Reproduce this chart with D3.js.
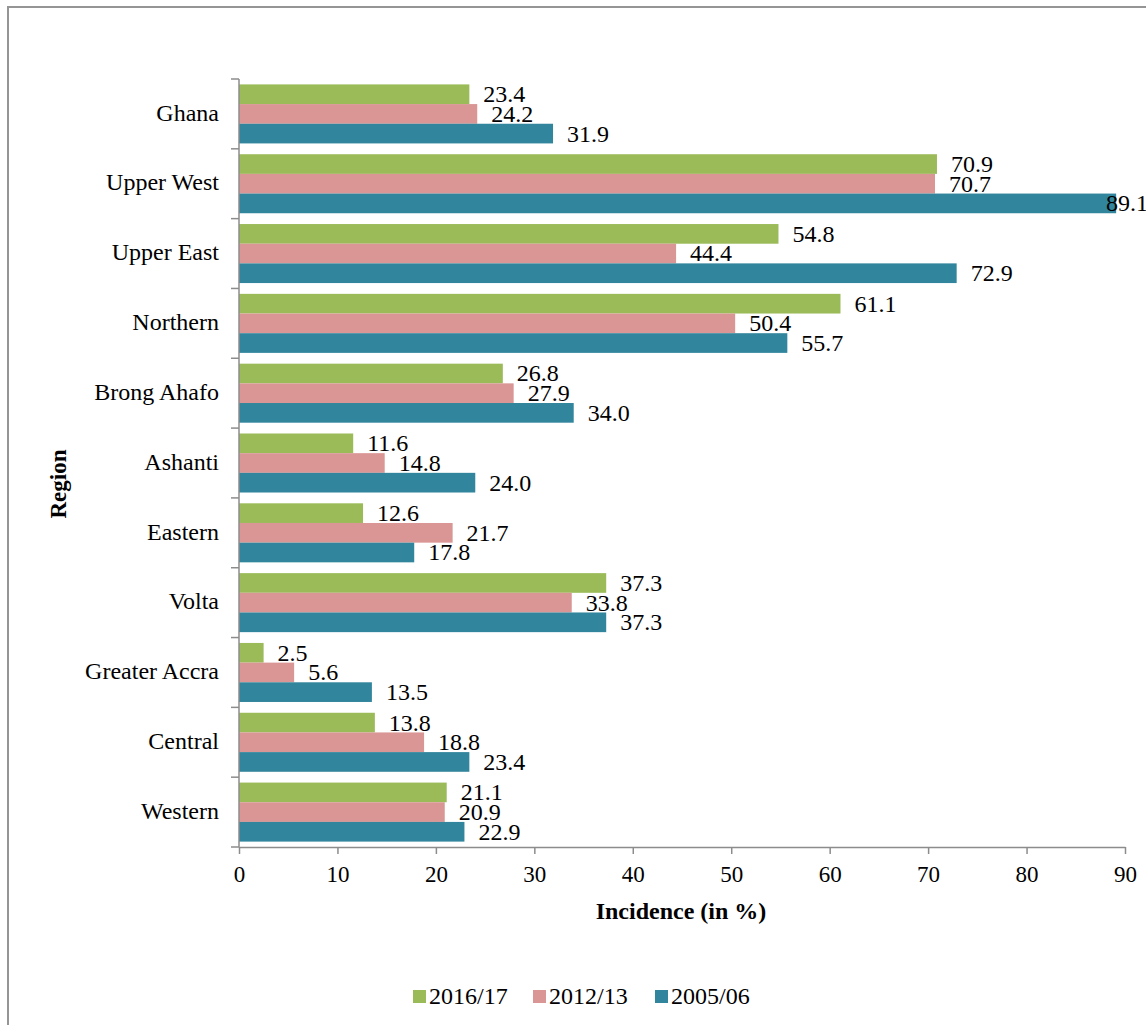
<!DOCTYPE html>
<html>
<head>
<meta charset="utf-8">
<script src="https://cdn.jsdelivr.net/npm/d3@7"></script>
<style>
    body { margin: 0; background: #fff; }
    svg text { font-family: 'Liberation Serif', 'Times New Roman', 'DejaVu Serif', serif !important; fill: #000; }
</style>
</head>
<body>
<div id="chart"></div>
<script>
const regions = ['Ghana', 'Upper West', 'Upper East', 'Northern', 'Brong Ahafo', 'Ashanti',
    'Eastern', 'Volta', 'Greater Accra', 'Central', 'Western'];
const seriesNames = ['2016/17', '2012/13', '2005/06'];
const v2016 = [23.4, 70.9, 54.8, 61.1, 26.8, 11.6, 12.6, 37.3, 2.5, 13.8, 21.1];
const v2012 = [24.2, 70.7, 44.4, 50.4, 27.9, 14.8, 21.7, 33.8, 5.6, 18.8, 20.9];
const v2005 = [31.9, 89.1, 72.9, 55.7, 34.0, 24.0, 17.8, 37.3, 13.5, 23.4, 22.9];
const xTicks = [0, 10, 20, 30, 40, 50, 60, 70, 80, 90];
const colors = ['#9bbb59', '#d99694', '#31859c'];

const serif = "'Liberation Serif', 'Times New Roman', serif";
const dims = { width: 1146, height: 1025 };
const plot = { left: 239, right: 1125, top: 79, bottom: 847 };

const svg = d3.select('#chart')
    .append('svg')
    .attr('width', dims.width)
    .attr('height', dims.height)
    .attr('font-family', serif);

// outer frame
svg.append('rect')
    .attr('x', 8).attr('y', 7)
    .attr('width', 1300).attr('height', 1200)
    .attr('fill', 'none')
    .attr('stroke', '#959595')
    .attr('stroke-width', 2);

// scales
const x = d3.scaleLinear().domain([0, 90]).range([plot.left, plot.right]);
const y = d3.scaleBand().domain(regions).range([plot.top, plot.bottom]).padding(0);
const inner = d3.scaleBand().domain(seriesNames)
    .range([5.4, y.bandwidth() - 5.4]).padding(0);

// table for the bars
const rows = [];
regions.forEach((r, i) => {
    [v2016, v2012, v2005].forEach((vals, j) => {
        rows.push({ region: r, series: seriesNames[j], value: vals[i], color: colors[j] });
    });
});

// bars
svg.append('g').selectAll('rect')
    .data(rows)
    .enter()
    .append('rect')
    .attr('x', x(0))
    .attr('y', d => y(d.region) + inner(d.series))
    .attr('width', d => x(d.value) - x(0))
    .attr('height', inner.bandwidth())
    .attr('fill', d => d.color);

// value labels
const labels = svg.append('g').selectAll('text')
    .data(rows)
    .enter()
    .append('text')
    .attr('y', d => y(d.region) + inner(d.series) + inner.bandwidth() / 2)
    .attr('dy', '0.33em')
    .style('font-family', serif)
    .style('font-size', '24px')
    .text(d => d.value.toFixed(1));

labels.attr('x', function (d) {
    const w = this.getComputedTextLength();
    return Math.min(x(d.value) + 14, 1148 - w);
});

// x axis
const xAxis = svg.append('g')
    .attr('transform', `translate(0,${plot.bottom})`)
    .call(d3.axisBottom(x).tickValues(xTicks).tickSize(7).tickSizeOuter(0).tickPadding(12));
xAxis.attr('font-family', serif);
xAxis.select('.domain').attr('stroke', '#8c8c8c').attr('stroke-width', 1.5);
xAxis.selectAll('.tick line').attr('stroke', '#8c8c8c').attr('stroke-width', 1.5);
xAxis.selectAll('.tick text')
    .style('font-family', serif)
    .style('font-size', '23px')
    .attr('fill', '#000');

// y axis (ticks on category boundaries)
const yAxis = svg.append('g');
yAxis.append('line')
    .attr('x1', plot.left).attr('x2', plot.left)
    .attr('y1', plot.top).attr('y2', plot.bottom)
    .attr('stroke', '#8c8c8c').attr('stroke-width', 1.5);
yAxis.selectAll('.btick')
    .data(regions.map(r => y(r)).concat([plot.bottom]))
    .enter()
    .append('line')
    .attr('x1', plot.left - 8).attr('x2', plot.left)
    .attr('y1', d => d).attr('y2', d => d)
    .attr('stroke', '#8c8c8c').attr('stroke-width', 1.5);
yAxis.selectAll('.cat')
    .data(regions)
    .enter()
    .append('text')
    .attr('x', 219)
    .attr('y', d => y(d) + y.bandwidth() / 2)
    .attr('dy', '0.28em')
    .attr('text-anchor', 'end')
    .style('font-family', serif)
    .style('font-size', '24px')
    .text(d => d);

// axis titles
svg.append('text')
    .attr('x', (plot.left + plot.right) / 2 - 1)
    .attr('y', 919)
    .attr('text-anchor', 'middle')
    .style('font-family', serif)
    .style('font-size', '24px')
    .style('font-weight', 'bold')
    .text('Incidence (in %)');

svg.append('text')
    .attr('transform', `translate(66,484) rotate(-90)`)
    .attr('text-anchor', 'middle')
    .style('font-family', serif)
    .style('font-size', '23px')
    .style('font-weight', 'bold')
    .text('Region');

// legend
const legendX = [413, 533, 655];
const legend = svg.append('g').selectAll('g')
    .data(seriesNames)
    .enter()
    .append('g')
    .attr('transform', (d, i) => `translate(${legendX[i]},990)`);
legend.append('rect')
    .attr('width', 13).attr('height', 13)
    .attr('fill', (d, i) => colors[i]);
legend.append('text')
    .attr('x', 16).attr('y', 14)
    .style('font-family', serif)
    .style('font-size', '24px')
    .text(d => d);
</script>
</body>
</html>
